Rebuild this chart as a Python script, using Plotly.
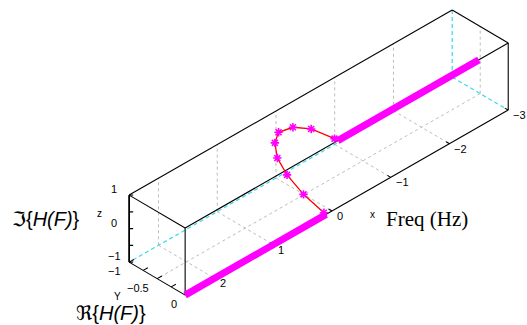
import numpy as np
import plotly.graph_objects as go

# Axis limits and ticks
x_lim = [-3, 2.5]
y_lim = [-1, 0]
z_lim = [-1, 1]
x_ticks = [-3, -2, -1, 0, 1, 2]
y_ticks = [-1, -0.5, 0]
z_ticks = [-1, 0, 1]
y_minor_ticks = [-0.75, -0.25]
z_minor_ticks = [-0.5, 0.5]
x_tick_text = ["\u22123", "\u22122", "\u22121", "0", "1", "2"]
y_tick_text = ["\u22121", "\u22120.5", "0"]
z_tick_text = ["\u22121", "0", "1"]

# Flat parts of the response: Re = 0, Im = -1 for F > 0 and Im = +1 for F < 0
band_pos_freq = [0.1, 2.5]
band_pos_re = [0, 0]
band_pos_im = [-1, -1]
band_neg_freq = [-2.5, -0.1]
band_neg_re = [0, 0]
band_neg_im = [1, 1]

# Transition samples around F = 0
curve_freq = [0.1, 0.075, 0.05, 0.025, 0.0, -0.025, -0.05, -0.075, -0.1]
curve_re = [-0.04, -0.43, -0.75, -0.95, -1.02, -0.98, -0.75, -0.45, -0.06]
curve_im = [-0.99, -0.85, -0.61, -0.33, 0.03, 0.36, 0.71, 0.93, 1.0]

# 3-D view: orthographic projection, azimuth/elevation and box aspect
AZ = np.radians(45.4)
EL = np.radians(35.5)
BOX_ASPECT = np.array([1.0, 0.967, 0.499])
RIGHT = np.array([-np.sin(AZ), np.cos(AZ), 0.0])
UP = np.array([-np.sin(EL) * np.cos(AZ), -np.sin(EL) * np.sin(AZ), np.cos(EL)])


def proj(xs, ys, zs):
    """Project 3-D data points onto the view plane (None breaks a line)."""
    us, ws = [], []
    for x, y, z in zip(xs, ys, zs):
        if x is None:
            us.append(None)
            ws.append(None)
            continue
        p = np.array([x, y, z], dtype=float) * BOX_ASPECT
        us.append(float(p @ RIGHT))
        ws.append(float(p @ UP))
    return us, ws


def segs(pairs):
    xs, ys, zs = [], [], []
    for a, b in pairs:
        xs += [a[0], b[0], None]
        ys += [a[1], b[1], None]
        zs += [a[2], b[2], None]
    return xs, ys, zs


def add_lines(fig, pairs, **line):
    u, w = proj(*segs(pairs))
    fig.add_trace(go.Scatter(x=u, y=w, mode="lines", line=line,
                             hoverinfo="skip", showlegend=False))


x0, x1 = x_lim
y0, y1 = y_lim
z0, z1 = z_lim

fig = go.Figure()

# dashed grid on the back planes
grid_pairs = []
for xt in x_ticks:
    if x0 < xt < x1:
        grid_pairs.append(((xt, y0, z0), (xt, y1, z0)))
        grid_pairs.append(((xt, y0, z0), (xt, y0, z1)))
for yt in y_ticks:
    if y0 < yt < y1:
        grid_pairs.append(((x0, yt, z0), (x1, yt, z0)))
        grid_pairs.append(((x0, yt, z0), (x0, yt, z1)))
add_lines(fig, grid_pairs, color="#bdbdbd", width=1, dash="3px,3px")

# hidden box edges
hidden = [((x0, y0, z0), (x0, y0, z1)),
          ((x0, y0, z0), (x0, y1, z0)),
          ((x0, y0, z0), (x1, y0, z0))]
add_lines(fig, hidden, color="#38dbe8", width=1.2, dash="4px,3px")

# visible box edges
A = (x1, y1, z0); B = (x1, y1, z1); C = (x1, y0, z0); D = (x1, y0, z1)
E = (x0, y1, z0); F = (x0, y1, z1); H = (x0, y0, z1)
add_lines(fig, [(A, B), (A, C), (A, E), (B, D), (B, F), (D, H), (H, F), (F, E)],
          color="black", width=1.1)
add_lines(fig, [(C, D)], color="black", width=1.8)

# tick marks
tick_pairs = []
for xt in x_ticks:
    tick_pairs.append(((xt, y1, z0), (xt, y1 - 0.06, z0)))
for yt in y_ticks + y_minor_ticks:
    tick_pairs.append(((x1, yt, z0), (x1 - 0.08, yt, z0)))
for zt in z_ticks + z_minor_ticks:
    tick_pairs.append(((x1, y0, zt), (x1 - 0.035, y0 + 0.035, zt)))
add_lines(fig, tick_pairs, color="black", width=1.1)

# response: flat parts
for fr, re, im in [(band_pos_freq, band_pos_re, band_pos_im),
                   (band_neg_freq, band_neg_re, band_neg_im)]:
    u, w = proj(fr, re, im)
    fig.add_trace(go.Scatter(x=u, y=w, mode="lines",
                             line=dict(color="#ff00ff", width=7),
                             hoverinfo="skip", showlegend=False))

# response: transition samples
u, w = proj(curve_freq, curve_re, curve_im)
fig.add_trace(go.Scatter(x=u, y=w, mode="lines+markers",
                         line=dict(color="#ff0000", width=1.3),
                         marker=dict(color="#ff00ff", size=7, symbol="asterisk-open",
                                     line=dict(color="#ff00ff", width=1.6)),
                         hoverinfo="skip", showlegend=False))

tick_font = dict(family="Liberation Sans, Arial, sans-serif", size=11, color="black")
ann = []


def label3d(x, y, z, text, **kw):
    (u,), (w,) = proj([x], [y], [z])
    d = dict(x=u, y=w, xref="x", yref="y", text=text, showarrow=False)
    d.update(kw)
    ann.append(d)


for xt, s in zip(x_ticks, x_tick_text):
    label3d(xt, y1, z0, s, xanchor="left", yanchor="middle", xshift=3, yshift=-5,
            font=tick_font)
for yt, s in zip(y_ticks, y_tick_text):
    label3d(x1, yt, z0, s, xanchor="right", yanchor="middle", xshift=-6, yshift=-9,
            font=tick_font)
for zt, s in zip(z_ticks, z_tick_text):
    label3d(x1, y0, zt, s, xanchor="center", yanchor="middle", xshift=-15, yshift=6,
            font=tick_font)

W, Hh = 527, 325
small = dict(family="Liberation Sans, Arial", size=10, color="black")
big_sans = dict(family="Liberation Sans, DejaVu Sans", size=20, color="black")


def paper_label(px, py, text, font):
    ann.append(dict(x=px / W, y=1 - py / Hh, xref="paper", yref="paper",
                    xanchor="center", yanchor="middle", showarrow=False,
                    text=text, font=font))


paper_label(46, 219, "\u2111{<i>H(F)</i>}", big_sans)
paper_label(111, 313, "\u211c{<i>H(F)</i>}", big_sans)
paper_label(427, 219, "Freq (Hz)",
            dict(family="Liberation Serif, Times New Roman, serif", size=21, color="black"))
paper_label(372, 214, "x", small)
paper_label(117, 296, "Y", small)
paper_label(99, 213, "z", small)

# 82.5 px per projected unit
PX = 82.5
fig.update_layout(
    width=W, height=Hh,
    margin=dict(l=0, r=0, t=0, b=0),
    paper_bgcolor="white", plot_bgcolor="white",
    xaxis=dict(range=[-332 / PX, (W - 332) / PX], visible=False, fixedrange=True),
    yaxis=dict(range=[-(Hh - 177.5) / PX, 177.5 / PX], visible=False, fixedrange=True),
    annotations=ann,
    hovermode=False,
)

fig.write_html("out.html", config=dict(displayModeBar=False, staticPlot=True))
